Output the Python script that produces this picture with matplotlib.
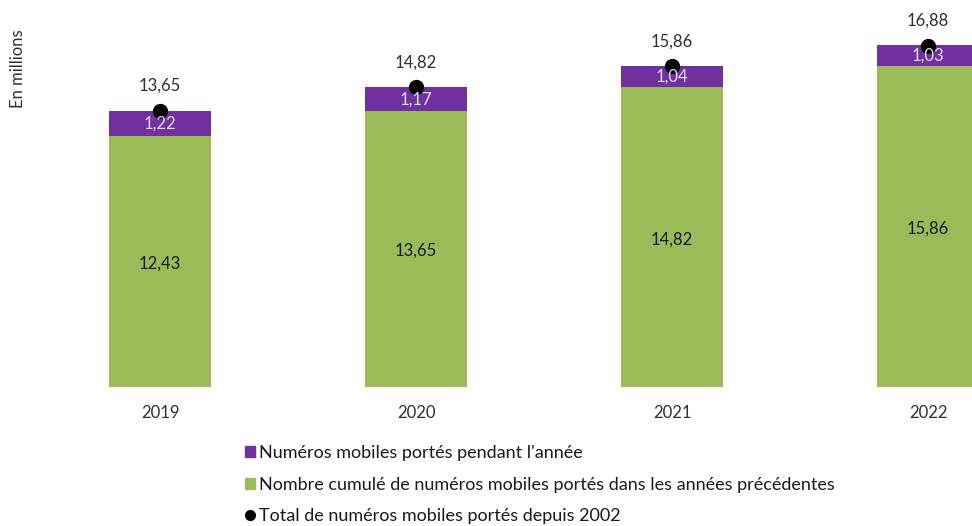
import numpy as np
from matplotlib import pyplot as plt
from matplotlib.patches import Patch
from matplotlib.lines import Line2D

plt.rcParams['font.family'] = ['Lato', 'DejaVu Sans']

annees = ["2019", "2020", "2021", "2022"]
cumul_precedent = [12.43, 13.65, 14.82, 15.86]
portes_annee = [1.22, 1.17, 1.04, 1.03]
total = [13.65, 14.82, 15.86, 16.88]

VERT = "#9BBB59"
VIOLET = "#7030A0"
TEXTE = "#303030"

fig = plt.figure(figsize=(9.72, 5.26), dpi=100)
ax = fig.add_axes([0, 139 / 526, 1, 387 / 526])

x = np.arange(len(annees))
largeur = 0.4
ax.bar(x, cumul_precedent, largeur, color=VERT)
ax.bar(x, portes_annee, largeur, bottom=cumul_precedent, color=VIOLET)
ax.plot(x, total, "o", color="black", markersize=10, zorder=3)

for i in range(len(annees)):
    ax.text(x[i], cumul_precedent[i] / 2 - 0.1, f"{cumul_precedent[i]:.2f}".replace(".", ","),
            ha="center", va="center", fontsize=12, color="#1a1a1a")
    ax.text(x[i], cumul_precedent[i] + portes_annee[i] / 2,
            f"{portes_annee[i]:.2f}".replace(".", ","),
            ha="center", va="center", fontsize=12, color="#E6DAF0")
    ax.annotate(f"{total[i]:.2f}".replace(".", ","), (x[i], total[i]),
                xytext=(0, 18), textcoords="offset points",
                ha="center", va="center", fontsize=12, color=TEXTE)

ax.set_xlim(-0.625, 3.172)
ax.set_ylim(0, 19.14)
for s in ax.spines.values():
    s.set_visible(False)
ax.set_yticks([])
ax.set_xticks(x)
ax.set_xticklabels(annees, fontsize=12, color=TEXTE)
ax.tick_params(axis="x", length=0, pad=13)

fig.text(18 / 972, 1 - 69 / 526, "En millions", rotation=90, ha="center",
         va="center", fontsize=12, color=TEXTE)

handles = [
    Patch(color=VIOLET),
    Patch(color=VERT),
    Line2D([], [], marker="o", linestyle="none", color="black", markersize=7),
]
labels = [
    "Numéros mobiles portés pendant l'année",
    "Nombre cumulé de numéros mobiles portés dans les années précédentes",
    "Total de numéros mobiles portés depuis 2002",
]
fig.legend(handles, labels, loc="upper left", bbox_to_anchor=(236 / 972, 1 - 436 / 526),
           frameon=False, fontsize=13, labelcolor="#1a1a1a", handlelength=0.55,
           handleheight=0.55, handletextpad=0.2, labelspacing=0.86, borderpad=0)

plt.savefig("out.png", dpi=100)
